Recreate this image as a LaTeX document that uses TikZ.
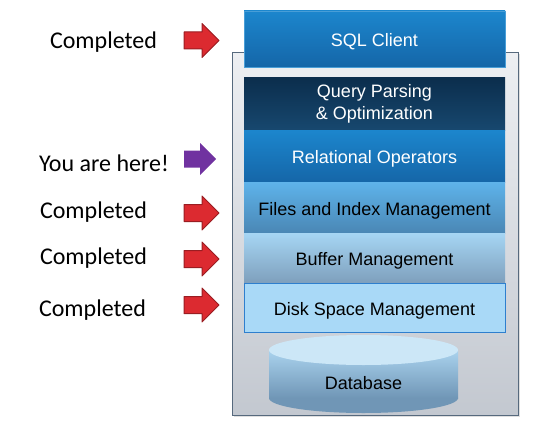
\documentclass[tikz,border=0pt]{standalone}
\usepackage{fontspec}
\setmainfont{Liberation Sans}
\newfontfamily\notefont{Carlito}
\usetikzlibrary{positioning, shadows}
\definecolor{sqltop}{HTML}{1C86CD}
\definecolor{sqlbot}{HTML}{1566A8}
\definecolor{qpotop}{HTML}{0B2D4C}
\definecolor{qpobot}{HTML}{17486F}
\definecolor{filtop}{HTML}{5EB3EA}
\definecolor{filbot}{HTML}{4A87B5}
\definecolor{buftop}{HTML}{A6D6F4}
\definecolor{bufbot}{HTML}{7E9FBC}
\definecolor{diskfill}{HTML}{A9D9F7}
\definecolor{diskline}{HTML}{2E7FCE}
\definecolor{boxtop}{HTML}{EDEFF2}
\definecolor{boxbot}{HTML}{C3C8D0}
\definecolor{boxline}{HTML}{56697D}
\definecolor{dbend}{HTML}{CCE7F7}
\definecolor{dbtop}{HTML}{AAD3EE}
\definecolor{dbbot}{HTML}{7096B6}
\definecolor{arrowred}{HTML}{DC2A30}
\definecolor{arrowpurple}{HTML}{7032A0}

\begin{document}
\begin{tikzpicture}[x=1pt, y=-1pt,
    layer/.style={minimum width=261pt, inner sep=0pt, outer sep=0pt,
        font=\fontsize{18}{22}\selectfont, align=center},
    oneline/.style={text height=15pt, text depth=0pt},
    note/.style={font=\notefont\fontsize{24}{28}\selectfont, inner sep=0pt,
        yshift=-2pt}]
    \useasboundingbox (0,0) rectangle (553,428);
    % Contenitore
    \node[shading=axis, top color=boxtop, bottom color=boxbot, draw=boxline,
        line width=0.8pt, minimum width=286pt, minimum height=363pt,
        inner sep=0pt, drop shadow={opacity=0.25, shadow xshift=1.5pt,
        shadow yshift=-1.5pt}] (stack) at (375,233.5) {};
    % Livelli
    \node[layer, oneline, minimum height=56pt, top color=sqltop,
        bottom color=sqlbot, draw=sqltop!80!white, text=white]
        (sql) at (374.5,39) {SQL Client};
    \node[layer, minimum height=53pt, top color=qpotop, bottom color=qpobot,
        text=white, below=10pt of sql] (qpo)
        {\raisebox{-1.5pt}{Query Parsing}\\\raisebox{-1.5pt}{\& Optimization}};
    \node[layer, oneline, minimum height=52pt, top color=sqltop,
        bottom color=sqlbot, text=white, below=0pt of qpo]
        (relop) {Relational Operators};
    \node[layer, oneline, minimum height=51pt, top color=filtop,
        bottom color=filbot, below=0pt of relop] (files)
        {Files and Index Management};
    \node[layer, oneline, minimum height=50pt, top color=buftop,
        bottom color=bufbot, below=0pt of files] (buffer) {Buffer Management};
    \node[layer, oneline, minimum height=49pt, fill=diskfill, draw=diskline,
        line width=0.8pt, below=0pt of buffer] (disk) {Disk Space Management};
    % Database
    \fill[dbbot] (363.5,398) ellipse [x radius=94.5pt, y radius=15pt];
    \shade[top color=dbtop, bottom color=dbbot] (269,350) rectangle (458,398);
    \fill[dbend] (363.5,350) ellipse [x radius=94.5pt, y radius=15pt];
    \node[font=\fontsize{18}{22}\selectfont] (db) at (363.5,383) {Database};
    % Note a sinistra
    \node[note] (n1) at (103.5,40) {Completed};
    \node[note] (n2) at (104,161) {You are here!};
    \node[note] (n3) at (93.5,210) {Completed};
    \node[note] (n4) at (93.5,256) {Completed};
    \node[note] (n5) at (92.5,308) {Completed};
    % Frecce
    \foreach \yy/\col in {40.5/arrowred, 213/arrowred, 259/arrowred, 305/arrowred}{
        \filldraw[fill=\col, draw=\col!70!black, line width=1pt, line join=round]
            (184,\yy-8.5) -- (202,\yy-8.5) -- (202,\yy-17) -- (219,\yy)
            -- (202,\yy+17) -- (202,\yy+8.5) -- (184,\yy+8.5) -- cycle;
    }
    \fill[arrowpurple] (184,159-8.5) -- (200,159-8.5) -- (200,159-16) -- (216,159)
        -- (200,159+16) -- (200,159+8.5) -- (184,159+8.5) -- cycle;
\end{tikzpicture}
\end{document}
